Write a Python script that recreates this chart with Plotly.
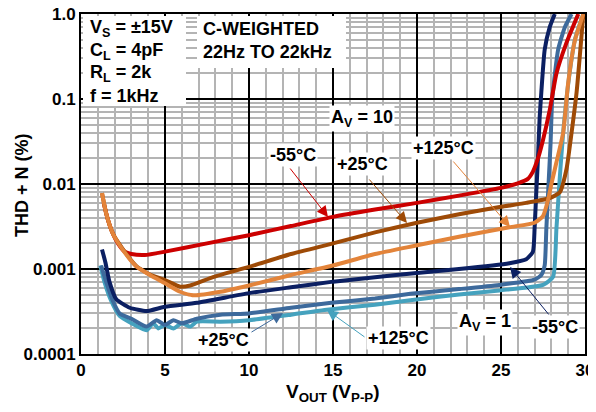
import plotly.graph_objects as go

# THD+N vs output voltage, Av = 10 and Av = 1 at three temperatures
red_x = [1.35, 1.6, 1.9, 2.2, 2.6, 3.0, 3.8, 5.0, 7.5, 10, 12.5, 15, 17.5, 20, 22.5, 25, 26.0, 26.6, 26.9, 27.2, 27.5, 27.9, 28.3, 28.9, 29.6]
red_y = [0.006, 0.0038, 0.0026, 0.002, 0.0016, 0.0015, 0.00146, 0.0016, 0.002, 0.0025, 0.0032, 0.0041, 0.005, 0.006, 0.0073, 0.009, 0.0102, 0.0115, 0.014, 0.02, 0.033, 0.074, 0.2, 0.46, 1.0]

brown_x = [1.25, 1.5, 1.9, 2.5, 3.3, 4.1, 5.0, 5.9, 6.5, 7.9, 10, 12.5, 15, 17.5, 20, 22.5, 25, 26.5, 27.9, 28.5, 28.9, 29.2, 29.5, 29.9]
brown_y = [0.0078, 0.0045, 0.0026, 0.0017, 0.00108, 0.00086, 0.00074, 0.00062, 0.00064, 0.00081, 0.00106, 0.0015, 0.002, 0.0027, 0.0035, 0.0044, 0.0054, 0.006, 0.0068, 0.008, 0.015, 0.04, 0.12, 1.0]

orange_x = [1.25, 1.5, 1.9, 2.5, 3.3, 4.1, 5.0, 5.9, 6.7, 8.3, 10, 12.5, 15, 17.5, 20, 22.5, 25.5, 27.0, 27.5, 27.8, 28.0, 28.3, 28.7, 29.0, 29.4, 29.9]
orange_y = [0.0078, 0.0045, 0.0026, 0.00167, 0.00107, 0.00085, 0.00068, 0.00054, 0.00049, 0.00054, 0.00064, 0.00085, 0.0011, 0.0015, 0.0019, 0.0024, 0.0031, 0.0035, 0.0042, 0.0065, 0.01, 0.018, 0.04, 0.155, 0.49, 1.0]

navy_x = [1.25, 1.45, 1.7, 2.1, 2.9, 3.9, 5.0, 6.9, 10, 12.5, 15, 17.5, 20, 22.5, 25.5, 26.5, 26.9, 27.0, 27.1, 27.2, 27.3, 27.4, 27.6, 27.9, 28.2]
navy_y = [0.0017, 0.0012, 0.0007, 0.00044, 0.00035, 0.00032, 0.00036, 0.0004, 0.00052, 0.00061, 0.00071, 0.0008, 0.0009, 0.001, 0.00117, 0.0013, 0.0016, 0.003, 0.008, 0.02, 0.06, 0.12, 0.38, 0.7, 1.0]

steel_x = [1.2, 1.5, 1.9, 2.3, 3.0, 3.9, 4.5, 5.0, 5.5, 6.0, 6.9, 8.3, 10, 12.5, 14.9, 17.5, 19.6, 22.5, 24.9, 27.0, 27.4, 27.6, 27.7, 27.85, 27.95, 28.05, 28.4, 28.8, 29.2]
steel_y = [0.0011, 0.0007, 0.00042, 0.0003, 0.00026, 0.00021, 0.00025, 0.00022, 0.00025, 0.00023, 0.00026, 0.00029, 0.0003, 0.00035, 0.0004, 0.00045, 0.00051, 0.00058, 0.00065, 0.00075, 0.00085, 0.0011, 0.003, 0.012, 0.03, 0.1, 0.38, 0.7, 1.0]

cyan_x = [1.15, 1.4, 1.8, 2.3, 3.0, 3.9, 4.3, 4.6, 5.0, 5.5, 6.0, 6.5, 6.9, 8.3, 10, 12.5, 14.5, 17.5, 19.6, 22.5, 24.9, 27.5, 28.1, 28.3, 28.5, 28.7, 29.0, 29.4, 29.9]
cyan_y = [0.0011, 0.0007, 0.00042, 0.00028, 0.00023, 0.00019, 0.00023, 0.0002, 0.00022, 0.0002, 0.00023, 0.00021, 0.00024, 0.00024, 0.00025, 0.00029, 0.00033, 0.00038, 0.00043, 0.0005, 0.00056, 0.00065, 0.00081, 0.003, 0.012, 0.04, 0.15, 0.5, 1.0]

y_ticks = [0.0001, 0.001, 0.01, 0.1, 1.0]
y_tick_text = ["0.0001", "0.001", "0.01", "0.1", "1.0"]

RED = "#CC0000"
BROWN = "#9E4A06"
ORANGE = "#E3843A"
NAVY = "#0B1F62"
STEEL = "#3D6A9C"
CYAN = "#45A2BE"

FONT = "Liberation Sans, Arial, sans-serif"

fig = go.Figure()
series = [
    (cyan_x, cyan_y, CYAN),
    (steel_x, steel_y, STEEL),
    (navy_x, navy_y, NAVY),
    (red_x, red_y, RED),
    (brown_x, brown_y, BROWN),
    (orange_x, orange_y, ORANGE),
]
for xs, ys, col in series:
    fig.add_trace(go.Scatter(x=xs, y=ys, mode="lines",
                             line=dict(color=col, width=4, shape="spline", smoothing=0.5),
                             showlegend=False, hoverinfo="skip"))

# plot area as seen on screen: x 81..585, y 14..354
def px(x):
    return (x - 81) / 504.0


def py(y):
    return (354 - y) / 340.0


def label(text, x, y, size=18, xanchor="center", bg="white"):
    fig.add_annotation(text=text, xref="paper", yref="paper", x=px(x), y=py(y),
                       xanchor=xanchor, yanchor="middle", showarrow=False,
                       font=dict(family=FONT, size=size, color="black", weight="bold"),
                       bgcolor=bg, borderpad=1, align="left")


def box(x0, y0, x1, y1):
    fig.add_shape(type="rect", xref="paper", yref="paper",
                  x0=px(x0), x1=px(x1), y0=py(y1), y1=py(y0),
                  fillcolor="white", line=dict(width=0), layer="above")


def arrow(hx, hy, tx, ty, col):
    fig.add_annotation(text="", xref="paper", yref="paper", x=px(hx), y=py(hy),
                       ax=tx - hx, ay=ty - hy, showarrow=True,
                       arrowhead=2, arrowsize=2.2, arrowwidth=1, arrowcolor=col)


# condition boxes
box(83, 16, 186, 106)
for i, t in enumerate(["V<sub>S</sub> = ±15V", "C<sub>L</sub> = 4pF", "R<sub>L</sub> = 2k", "f = 1kHz"]):
    label(t, 88, 29 + i * 22.3, xanchor="left", bg=None)
box(197, 16, 346, 68)
label("C-WEIGHTED", 201, 29, xanchor="left", bg=None)
label("22Hz TO 22kHz", 201, 52, xanchor="left", bg=None)

label("A<sub>V</sub> = 10", 362, 118)
label("-55°C", 293, 155)
label("+25°C", 362, 164)
label("+125°C", 443, 148)
label("+25°C", 223, 340)
label("+125°C", 398, 338)
label("A<sub>V</sub> = 1", 485, 322)
label("-55°C", 555, 327)

arrow(328, 217, 289, 167, RED)
arrow(407, 223, 368, 178, BROWN)
arrow(510, 227, 452, 160, ORANGE)
arrow(283, 313, 250, 333, STEEL)
arrow(327, 310, 366, 338, CYAN)
arrow(510, 267, 550, 316, NAVY)

# axis titles
fig.add_annotation(text="THD + N (%)", xref="paper", yref="paper", x=px(22), y=py(185),
                   textangle=-90, showarrow=False, xanchor="center", yanchor="middle",
                   font=dict(family=FONT, size=18, color="black", weight="bold"))
fig.add_annotation(text="V<sub>OUT</sub> (V<sub>P-P</sub>)", xref="paper", yref="paper",
                   x=px(333), y=py(393), showarrow=False, xanchor="center", yanchor="middle",
                   font=dict(family=FONT, size=19, color="black", weight="bold"))

fig.update_xaxes(range=[0, 30], dtick=5, tick0=0, automargin=False,
                 ticklabeloverflow="allow",
                 showgrid=True, gridcolor="black", gridwidth=2,
                 minor=dict(dtick=1, showgrid=True, gridcolor="#B4B4B4", gridwidth=2),
                 showline=True, linecolor="black", linewidth=2, mirror=True,
                 ticks="", zeroline=False,
                 tickfont=dict(family=FONT, size=17, color="black", weight="bold"))
fig.update_yaxes(type="log", range=[-4, 0], tickvals=y_ticks, ticktext=y_tick_text,
                 automargin=False, ticklabeloverflow="allow",
                 showgrid=True, gridcolor="black", gridwidth=2,
                 minor=dict(dtick="D1", showgrid=True, gridcolor="#B4B4B4", gridwidth=2),
                 showline=True, linecolor="black", linewidth=2, mirror=True,
                 ticks="", zeroline=False,
                 tickfont=dict(family=FONT, size=17, color="black", weight="bold"))

# the page body adds an 8px offset, so the margins are shifted to compensate
fig.update_layout(width=596, height=412, plot_bgcolor="white", paper_bgcolor="white",
                  margin=dict(l=73, r=19, t=6, b=66))

fig.write_html("out.html")
